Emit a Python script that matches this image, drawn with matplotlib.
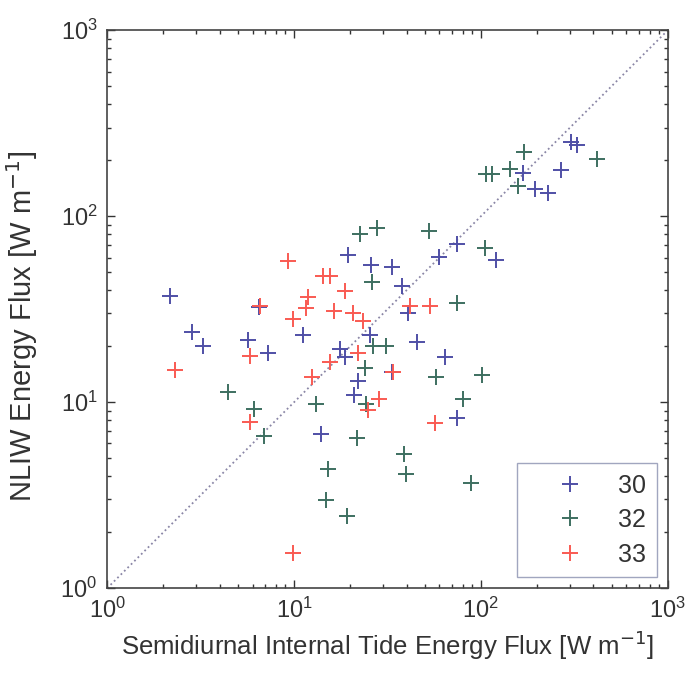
import numpy as np
import matplotlib
matplotlib.use("Agg")
import matplotlib.pyplot as plt
from matplotlib.lines import Line2D

plt.rcParams['font.family'] = ['Liberation Sans', 'DejaVu Sans']

# Series 30 (blue)
x30 = [2.17, 2.85, 3.26, 5.68, 7.26, 11.2, 19.4, 25.8, 33.4, 37.8, 17.6, 18.7,
       25.5, 22.0, 20.9, 13.9, 74.4, 59.6, 120, 45.5, 168, 194, 228, 268, 303,
       326, 64.2, 74.4, 6.5, 33.4, 40.7]
y30 = [37.2, 23.8, 20.0, 21.5, 18.3, 22.9, 61.7, 54.5, 53.2, 42.0, 19.3, 17.5,
       22.9, 13.0, 11.0, 6.73, 70.7, 60.2, 58.0, 21.0, 170, 140, 133, 177, 250,
       241, 17.5, 8.2, 32.4, 14.5, 30.1]

# Series 32 (green)
x32 = [22.5, 27.8, 26.1, 52.7, 105, 74.4, 106, 114, 143, 170, 158, 417,
       4.44, 6.11, 6.91, 13.1, 15.2, 14.8, 19.2, 21.7, 24.0, 26.5, 31.1,
       38.8, 39.7, 57.5, 101, 80.1, 88.4, 24.3]
y32 = [80.0, 86.2, 44.2, 83.1, 67.3, 34.1, 168, 168, 179, 221, 145, 202,
       11.3, 9.17, 6.57, 9.75, 4.36, 2.97, 2.44, 6.41, 15.2, 20.0, 20.0,
       5.25, 4.10, 13.6, 14.0, 10.4, 3.67, 9.77]

# Series 33 (red)
x33 = [9.29, 14.3, 15.6, 18.7, 11.9, 11.6, 9.88, 16.4, 20.7, 23.4, 2.31, 5.82,
       5.82, 9.88, 12.5, 15.6, 22.0, 28.5, 56.8, 53.4, 41.7, 24.9, 6.6, 33.8]
y33 = [57.3, 47.6, 47.6, 39.5, 36.7, 32.0, 27.9, 30.9, 30.1, 27.3, 14.9, 17.7,
       7.80, 1.54, 13.6, 16.4, 18.3, 10.4, 7.71, 32.8, 32.8, 9.06, 33.0, 14.6]

labels = ['30', '32', '33']
colors = ['#4f4fa6', '#3d6f60', '#f95a52']

fig = plt.figure(figsize=(6.87, 6.73), dpi=100)
ax = fig.add_axes([0.156, 0.126, 0.816, 0.829])

ax.plot([1, 1000], [1, 1000], linestyle=':', color='#8a86a6', lw=1.3, zorder=1)
for xs, ys, c, lab in zip([x30, x32, x33], [y30, y32, y33], colors, labels):
    ax.plot(xs, ys, linestyle='none', marker='+', markersize=12, mew=1.4,
            color=c, label=lab, zorder=2)

ax.set_xscale('log')
ax.set_yscale('log')
ax.set_xlim(1, 1000)
ax.set_ylim(1, 1000)

tc = '#333333'
ax.tick_params(which='both', direction='in', top=True, right=True, colors=tc,
               labelsize=17)
ax.tick_params(axis='x', which='major', pad=7)
ax.tick_params(axis='y', which='major', pad=7)
ax.tick_params(which='major', length=6, width=1)
ax.tick_params(which='minor', length=3, width=1)
for s in ax.spines.values():
    s.set_color('#444444')
    s.set_linewidth(1.2)

ax.set_xlabel('Semidiurnal Internal Tide Energy Flux [W m$^{-1}$]',
              fontsize=18.5, color=tc, labelpad=4)
ax.set_ylabel('NLIW Energy Flux [W m$^{-1}$]', fontsize=21, color=tc)
ax.yaxis.set_label_coords(-0.12, 0.47)

handles = [Line2D([], [], linestyle='none', marker='+', markersize=12, mew=1.4,
                  color=c) for c in colors]
leg = ax.legend(handles, labels, loc='lower right', fontsize=18,
                frameon=True, fancybox=False, edgecolor='#8a90b0',
                borderpad=0.42, labelspacing=0.42, handlelength=3.4,
                handletextpad=0.25, borderaxespad=0.44, markerfirst=True)
leg.get_frame().set_linewidth(1.0)
for t in leg.get_texts():
    t.set_color(tc)

fig.savefig('out.png', dpi=100, facecolor='white')
